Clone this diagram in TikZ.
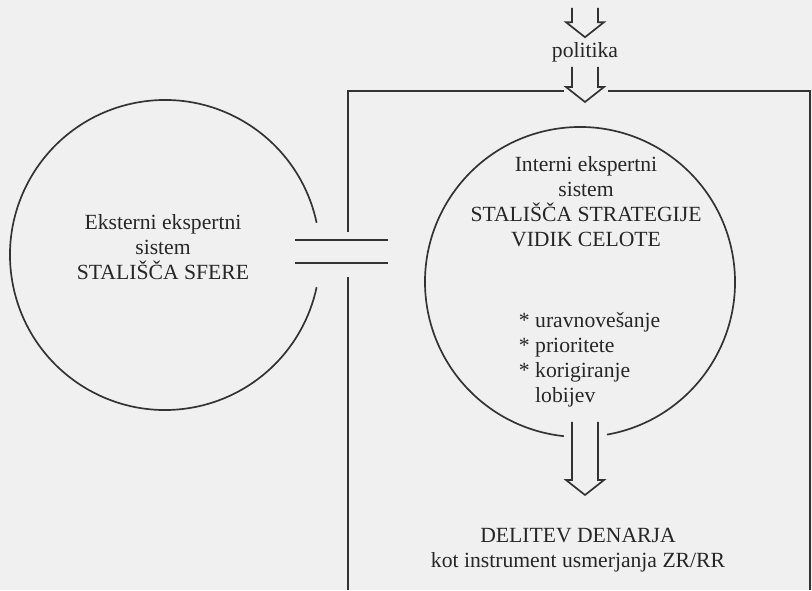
\documentclass[tikz,border=0pt]{standalone}
\usepackage{fontspec}
\setmainfont{Liberation Serif}
\usetikzlibrary{calc}
\def\hollowarrow(#1)(#2){\draw[rim] ($(#1)+(-0.325,0)$) -- ($(#2)+(-0.325,0.375)$) -- ($(#2)+(-0.475,0.375)$) -- (#2) -- ($(#2)+(0.475,0.375)$) -- ($(#2)+(0.325,0.375)$) -- ($(#1)+(0.325,0)$);}

\begin{document}
\begin{tikzpicture}[rim/.style={draw=black!80, line width=1.2pt}, txt/.style={font=\fontsize{15.4}{17.8}\selectfont, text=black!85, align=center}]
		\useasboundingbox (0,0) rectangle (20.3,14.75);
		\fill[black!6] (0,0) rectangle (20.3,14.75);
		
		%%%%% CIRCLES %%%%%
		\coordinate (ext) at (4.125, 8.375);
		\coordinate (int) at (14.5, 7.7);
		\draw[rim] ($(ext)+(12:3.875)$) arc (12:348:3.875);
		\draw[rim] ($(int)+(-80:3.875)$) arc (-80:264:3.875);
		
		\node[txt] (eksterni) at (4.075, 8.575) {Eksterni ekspertni\\sistem\\STALIŠČA SFERE};
		\node[txt] (interni) at (14.65, 9.7) {Interni ekspertni\\sistem\\STALIŠČA STRATEGIJE\\VIDIK CELOTE};
		\node[txt, align=left, anchor=west] (naloge) at (12.85, 5.75) {* uravnovešanje\\* prioritete\\* korigiranje\\\hphantom{* }lobijev};
		
		%%%%% FRAME %%%%%
		\draw[rim] (8.7, 8.95) -- (8.7, 12.475) -- (14.1, 12.475);
		\draw[rim] (15.2, 12.475) -- (20.25, 12.475) -- (20.25, 0);
		\draw[rim] (8.7, 7.825) -- (8.7, 0);
		\draw[rim] (7.375, 8.75) -- (9.7, 8.75);
		\draw[rim] (7.375, 8.175) -- (9.7, 8.175);
		
		%%%%% ARROWS %%%%%
		\node[txt] (politika) at (14.625, 13.45) {politika};
		\coordinate (vir) at (14.625, 14.55);
		\coordinate (vhod) at (14.625, 12.2);
		\hollowarrow(vir)(politika.north)
		\hollowarrow(politika.south)(vhod)
		
		\node[txt] (delitev) at (14.45, 0.99) {DELITEV DENARJA\\kot instrument usmerjanja ZR/RR};
		\coordinate (izhod) at (14.625, 4.2);
		\coordinate (cilj) at (14.625, 2.375);
		\hollowarrow(izhod)(cilj)
		%%%%% END %%%%%
	\end{tikzpicture}
\end{document}
